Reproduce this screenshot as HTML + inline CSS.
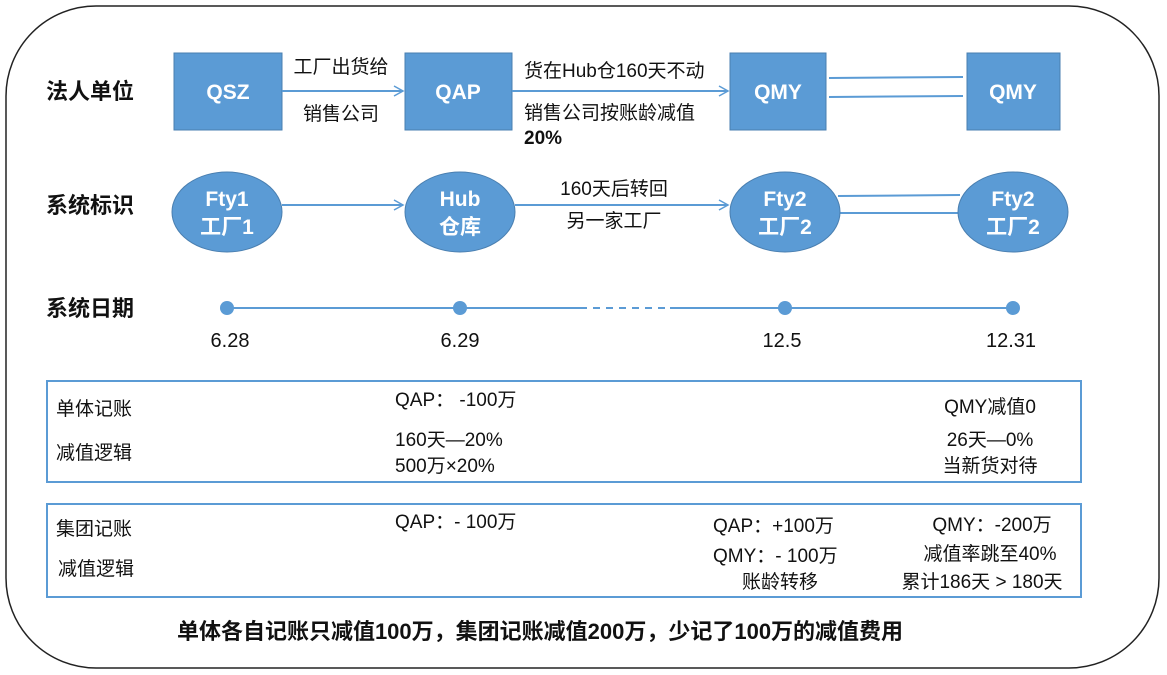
<!DOCTYPE html>
<html><head><meta charset="utf-8"><style>
body{margin:0;background:#fff;width:1167px;height:675px;overflow:hidden}
svg{display:block}
text{font-family:"Liberation Sans","Noto Sans CJK SC",sans-serif;fill:#111}
.w{fill:#fff;font-weight:bold;font-size:21px}
.b{font-weight:bold;font-size:22px}
.n{font-size:19px}
</style></head><body>
<svg width="1167" height="675">
<defs><marker id="ar" markerWidth="12" markerHeight="12" refX="10" refY="6" orient="auto" markerUnits="userSpaceOnUse"><path d="M1,1 L10,6 L1,11" fill="none" stroke="#5b9bd5" stroke-width="1.5"/></marker></defs>
<rect x="6" y="6" width="1153" height="662" rx="90" fill="none" stroke="#222" stroke-width="1.5"/>
<g>
<text class="b" x="46" y="99">法人单位</text>
<text class="b" x="46" y="213">系统标识</text>
<text class="b" x="46" y="316">系统日期</text>
</g>
<g fill="#5b9bd5" stroke="#4a7fb0">
<rect x="174" y="53" width="108" height="77"/>
<rect x="405" y="53" width="107" height="77"/>
<rect x="730" y="53" width="96" height="77"/>
<rect x="967" y="53" width="93" height="77"/>
</g>
<text class="w" x="228" y="99" text-anchor="middle">QSZ</text>
<text class="w" x="458" y="99" text-anchor="middle">QAP</text>
<text class="w" x="778" y="99" text-anchor="middle">QMY</text>
<text class="w" x="1013" y="99" text-anchor="middle">QMY</text>
<g stroke="#5b9bd5" stroke-width="2" fill="none">
<line x1="282" y1="91" x2="403" y2="91" marker-end="url(#ar)"/>
<line x1="512" y1="91" x2="728" y2="91" marker-end="url(#ar)"/>
<line x1="829" y1="78" x2="963" y2="77"/>
<line x1="829" y1="97" x2="963" y2="96"/>
<line x1="282" y1="205" x2="403" y2="205" marker-end="url(#ar)"/>
<line x1="515" y1="205" x2="728" y2="205" marker-end="url(#ar)"/>
<line x1="838" y1="196" x2="960" y2="195"/>
<line x1="840" y1="213" x2="958" y2="213"/>
<line x1="227" y1="308" x2="580" y2="308"/>
<line x1="580" y1="308" x2="670" y2="308" stroke-dasharray="7,6"/>
<line x1="670" y1="308" x2="1013" y2="308"/>
</g>
<text class="n" x="341" y="73" text-anchor="middle">工厂出货给</text>
<text class="n" x="341" y="120" text-anchor="middle">销售公司</text>
<text class="n" x="524" y="77">货在Hub仓160天不动</text>
<text class="n" x="524" y="119">销售公司按账龄减值</text>
<text class="n" x="524" y="144" font-weight="bold">20%</text>
<text class="n" x="614" y="195" text-anchor="middle">160天后转回</text>
<text class="n" x="614" y="227" text-anchor="middle">另一家工厂</text>
<g fill="#5b9bd5" stroke="#4a7fb0">
<ellipse cx="227" cy="212" rx="55" ry="40"/>
<ellipse cx="460" cy="212" rx="55" ry="40"/>
<ellipse cx="785" cy="212" rx="55" ry="40"/>
<ellipse cx="1013" cy="212" rx="55" ry="40"/>
</g>
<text class="w" x="227" y="206" text-anchor="middle">Fty1</text><text class="w" x="227" y="234" text-anchor="middle">工厂1</text>
<text class="w" x="460" y="206" text-anchor="middle">Hub</text><text class="w" x="460" y="234" text-anchor="middle">仓库</text>
<text class="w" x="785" y="206" text-anchor="middle">Fty2</text><text class="w" x="785" y="234" text-anchor="middle">工厂2</text>
<text class="w" x="1013" y="206" text-anchor="middle">Fty2</text><text class="w" x="1013" y="234" text-anchor="middle">工厂2</text>
<g fill="#5b9bd5">
<circle cx="227" cy="308" r="7"/><circle cx="460" cy="308" r="7"/><circle cx="785" cy="308" r="7"/><circle cx="1013" cy="308" r="7"/>
</g>
<text x="230" y="347" font-size="20" text-anchor="middle">6.28</text>
<text x="460" y="347" font-size="20" text-anchor="middle">6.29</text>
<text x="782" y="347" font-size="20" text-anchor="middle">12.5</text>
<text x="1011" y="347" font-size="20" text-anchor="middle">12.31</text>
<rect x="47" y="381" width="1034" height="101" fill="none" stroke="#5b9bd5" stroke-width="2"/>
<rect x="47" y="504" width="1034" height="93" fill="none" stroke="#5b9bd5" stroke-width="2"/>
<text class="n" x="56" y="415">单体记账</text>
<text class="n" x="56" y="459">减值逻辑</text>
<text class="n" x="395" y="406">QAP：  -100万</text>
<text class="n" x="395" y="446">160天—20%</text>
<text class="n" x="395" y="472">500万×20%</text>
<text class="n" x="990" y="413" text-anchor="middle">QMY减值0</text>
<text class="n" x="990" y="446" text-anchor="middle">26天—0%</text>
<text class="n" x="990" y="472" text-anchor="middle">当新货对待</text>
<text class="n" x="56" y="535">集团记账</text>
<text class="n" x="58" y="575">减值逻辑</text>
<text class="n" x="395" y="528">QAP：- 100万</text>
<text class="n" x="713" y="532">QAP：+100万</text>
<text class="n" x="713" y="562">QMY：- 100万</text>
<text class="n" x="780" y="588" text-anchor="middle">账龄转移</text>
<text class="n" x="992" y="531" text-anchor="middle">QMY：-200万</text>
<text class="n" x="990" y="560" text-anchor="middle">减值率跳至40%</text>
<text class="n" x="982" y="588" text-anchor="middle">累计186天 &gt; 180天</text>
<text x="540" y="639" text-anchor="middle" font-size="22" font-weight="bold">单体各自记账只减值100万，集团记账减值200万，少记了100万的减值费用</text>
</svg>
</body></html>
